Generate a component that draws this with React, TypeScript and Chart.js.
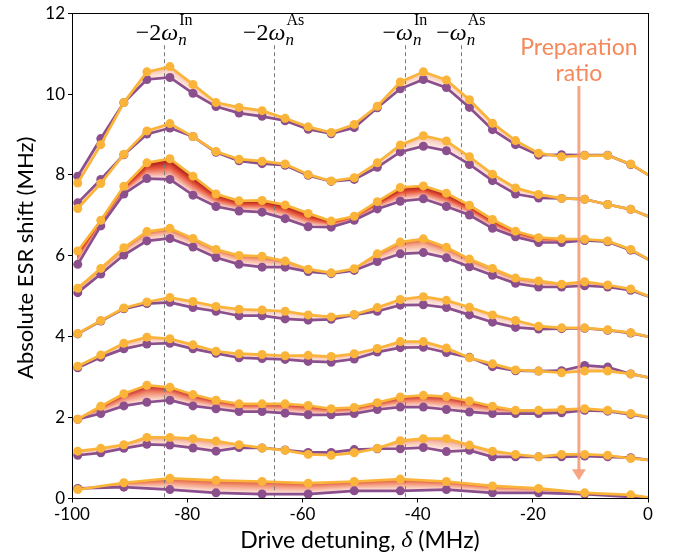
import React, { useEffect, useRef } from 'react';
import { Chart, registerables } from 'chart.js';

Chart.register(...registerables);

// ---------------- data ----------------
// drive detuning (MHz); the last value lies just outside the axis (line continues to the frame)
const detuning = [-99, -95, -91, -87, -83, -79, -75, -71, -67, -63, -59, -55, -51, -47, -43, -39, -35, -31, -27, -23, -19, -15, -11, -7, -3, 1];
const detuningCoarse = [-99, -91, -83, -75, -67, -59, -51, -43, -35, -27, -19, -11, -3, 5];

// each group: high preparation ratio (orange) and low preparation ratio (purple)
const g1High = [7.80, 8.75, 9.79, 10.55, 10.68, 10.24, 9.79, 9.67, 9.59, 9.40, 9.19, 9.05, 9.25, 9.70, 10.30, 10.55, 10.35, 9.86, 9.28, 8.85, 8.54, 8.45, 8.48, 8.48, 8.27, 7.92];
const g1Low = [7.97, 8.90, 9.79, 10.36, 10.41, 10.02, 9.69, 9.53, 9.45, 9.34, 9.13, 9.02, 9.17, 9.66, 10.13, 10.36, 10.16, 9.67, 9.12, 8.75, 8.49, 8.50, 8.49, 8.49, 8.26, 7.92];

const g2High = [7.17, 7.79, 8.51, 9.09, 9.27, 8.95, 8.58, 8.39, 8.34, 8.27, 8.01, 7.85, 7.93, 8.30, 8.74, 8.97, 8.84, 8.45, 8.02, 7.68, 7.52, 7.42, 7.40, 7.27, 7.15, 6.92];
const g2Low = [7.31, 7.89, 8.50, 9.01, 9.16, 8.95, 8.56, 8.35, 8.28, 8.24, 7.99, 7.84, 7.89, 8.19, 8.57, 8.71, 8.60, 8.26, 7.86, 7.53, 7.43, 7.42, 7.40, 7.27, 7.15, 6.92];

const g3High = [6.12, 6.88, 7.72, 8.30, 8.40, 7.97, 7.53, 7.36, 7.37, 7.26, 7.05, 6.86, 6.98, 7.34, 7.69, 7.73, 7.55, 7.25, 6.90, 6.61, 6.45, 6.42, 6.41, 6.37, 6.16, 5.84];
const g3Low = [5.79, 6.74, 7.53, 7.91, 7.89, 7.50, 7.22, 7.11, 7.08, 6.92, 6.72, 6.71, 6.88, 7.16, 7.35, 7.41, 7.22, 7.01, 6.68, 6.47, 6.33, 6.33, 6.38, 6.35, 6.14, 5.84];

const g4High = [5.20, 5.69, 6.20, 6.60, 6.68, 6.43, 6.16, 6.01, 5.99, 5.87, 5.67, 5.58, 5.68, 6.05, 6.34, 6.42, 6.21, 5.92, 5.69, 5.45, 5.38, 5.30, 5.36, 5.28, 5.18, 4.95];
const g4Low = [5.09, 5.55, 6.02, 6.37, 6.43, 6.22, 5.96, 5.79, 5.72, 5.72, 5.61, 5.56, 5.64, 5.86, 6.05, 6.08, 5.95, 5.73, 5.52, 5.32, 5.23, 5.23, 5.26, 5.23, 5.15, 4.95];

const g5High = [4.08, 4.40, 4.71, 4.86, 4.97, 4.87, 4.75, 4.68, 4.66, 4.63, 4.54, 4.49, 4.55, 4.72, 4.92, 4.99, 4.90, 4.73, 4.54, 4.40, 4.26, 4.22, 4.22, 4.17, 4.10, 3.97];
const g5Low = [4.07, 4.39, 4.69, 4.82, 4.85, 4.72, 4.63, 4.52, 4.52, 4.44, 4.41, 4.43, 4.54, 4.63, 4.78, 4.79, 4.72, 4.54, 4.36, 4.23, 4.19, 4.20, 4.21, 4.16, 4.09, 3.97];

const g6High = [3.27, 3.55, 3.84, 3.99, 3.95, 3.80, 3.64, 3.58, 3.56, 3.53, 3.54, 3.51, 3.58, 3.71, 3.88, 3.88, 3.72, 3.48, 3.33, 3.18, 3.15, 3.11, 3.15, 3.15, 3.08, 2.97];
const g6Low = [3.23, 3.49, 3.70, 3.82, 3.84, 3.70, 3.59, 3.48, 3.46, 3.44, 3.39, 3.37, 3.45, 3.62, 3.73, 3.74, 3.61, 3.49, 3.26, 3.16, 3.15, 3.16, 3.29, 3.25, 3.08, 2.97];

const g7High = [1.96, 2.28, 2.59, 2.80, 2.75, 2.57, 2.43, 2.34, 2.34, 2.34, 2.30, 2.22, 2.25, 2.37, 2.51, 2.55, 2.52, 2.41, 2.28, 2.18, 2.18, 2.20, 2.22, 2.18, 2.10, 1.98];
const g7Low = [1.96, 2.10, 2.29, 2.38, 2.43, 2.29, 2.22, 2.15, 2.15, 2.11, 2.07, 2.07, 2.10, 2.20, 2.26, 2.26, 2.20, 2.14, 2.10, 2.10, 2.10, 2.12, 2.18, 2.16, 2.08, 1.98];

const g8High = [1.17, 1.24, 1.33, 1.51, 1.51, 1.48, 1.42, 1.33, 1.25, 1.19, 1.09, 1.07, 1.13, 1.24, 1.43, 1.48, 1.48, 1.32, 1.17, 1.09, 1.03, 1.09, 1.09, 1.07, 0.99, 0.94];
const g8Low = [1.07, 1.13, 1.24, 1.34, 1.32, 1.25, 1.17, 1.26, 1.25, 1.20, 1.14, 1.14, 1.21, 1.23, 1.23, 1.26, 1.16, 1.19, 1.03, 1.03, 1.03, 1.03, 1.05, 1.03, 1.01, 0.94];

const g9High = [0.22, 0.39, 0.50, 0.45, 0.42, 0.38, 0.42, 0.48, 0.42, 0.31, 0.25, 0.14, 0.09, -0.07];
const g9Low = [0.25, 0.28, 0.22, 0.14, 0.11, 0.11, 0.19, 0.19, 0.22, 0.14, 0.14, 0.11, 0.04, -0.07];

// band shading colours: tone next to the high-ratio curve, then a middle tone
const bandShades = ['#f6bca8', '#f6bca8', '#a50f15', '#e4603f', '#f6bca8', '#f2a98e', '#c3232a', '#ee9676', '#e0573a'];
const bandMids = ['#fad6c8', '#fad6c8', '#ea5a3e', '#f6ac92', '#fad6c8', '#f9cdbd', '#f08466', '#f8c3af', '#f49a7c'];

// resonance markers
const markerDetunings = [-84, -65, -42.2, -32.5];
const markerPrefixes = ['\u22122', '\u22122', '\u2212', '\u2212'];
const markerSuperscripts = ['In', 'As', 'In', 'As'];

const xTickStep = 20;
const yTickStep = 2;

// preparation-ratio arrow
const arrowDetuning = -12;
const arrowFrom = 10.2;
const arrowTo = 0.45;

// ---------------- styling ----------------
const PURPLE = '#8a4f8c';
const ORANGE = '#fbb43a';
const SANS = 'Lato, "Open Sans", sans-serif';
const SERIF = '"Liberation Serif", "DejaVu Serif", serif';

const groups = [
  { x: detuning, high: g1High, low: g1Low },
  { x: detuning, high: g2High, low: g2Low },
  { x: detuning, high: g3High, low: g3Low },
  { x: detuning, high: g4High, low: g4Low },
  { x: detuning, high: g5High, low: g5Low },
  { x: detuning, high: g6High, low: g6Low },
  { x: detuning, high: g7High, low: g7Low },
  { x: detuning, high: g8High, low: g8Low },
  { x: detuningCoarse, high: g9High, low: g9Low },
];

const pointRadius = (ctx: any) => (ctx.raw && ctx.raw.x > 0 ? 0 : 4.5);

function makeDatasets() {
  const ds: any[] = [];
  groups.forEach((g) => {
    ds.push({
      data: g.x.map((x, i) => ({ x, y: g.high[i] })),
      borderColor: ORANGE,
      backgroundColor: ORANGE,
      pointBackgroundColor: ORANGE,
      pointBorderColor: ORANGE,
      borderWidth: 2.7,
      pointRadius,
      pointBorderWidth: 0,
      order: 0,
    });
    ds.push({
      data: g.x.map((x, i) => ({ x, y: g.low[i] })),
      borderColor: PURPLE,
      backgroundColor: PURPLE,
      pointBackgroundColor: PURPLE,
      pointBorderColor: PURPLE,
      borderWidth: 2.7,
      pointRadius,
      pointBorderWidth: 0,
      order: 1,
    });
  });
  return ds;
}

const bandPlugin = {
  id: 'bands',
  beforeDatasetsDraw(chart: any) {
    const { ctx, chartArea: a, scales } = chart;
    const xs = scales.x;
    const ys = scales.y;
    ctx.save();
    ctx.beginPath();
    ctx.rect(a.left, a.top, a.right - a.left, a.bottom - a.top);
    ctx.clip();
    groups.forEach((g, gi) => {
      const shade = bandShades[gi];
      const mid = bandMids[gi];
      for (let i = 0; i < g.x.length - 1; i++) {
        const x0 = xs.getPixelForValue(g.x[i]);
        const x1 = xs.getPixelForValue(g.x[i + 1]);
        for (let px = Math.floor(x0); px < x1; px++) {
          const t = Math.min(1, Math.max(0, (px + 0.5 - x0) / (x1 - x0)));
          const yt = ys.getPixelForValue(g.high[i] + t * (g.high[i + 1] - g.high[i]));
          const yb = ys.getPixelForValue(g.low[i] + t * (g.low[i + 1] - g.low[i]));
          if (Math.abs(yb - yt) < 0.5) continue;
          const grad = ctx.createLinearGradient(0, yt, 0, yb);
          grad.addColorStop(0, shade);
          grad.addColorStop(0.4, mid);
          grad.addColorStop(1, '#fef0ea');
          ctx.fillStyle = grad;
          ctx.fillRect(px, Math.min(yt, yb), 1.02, Math.abs(yb - yt));
        }
      }
    });
    ctx.restore();

    // dashed resonance lines
    ctx.save();
    ctx.strokeStyle = '#7a7a7a';
    ctx.lineWidth = 1;
    ctx.setLineDash([4, 3]);
    markerDetunings.forEach((d) => {
      const px = Math.round(xs.getPixelForValue(d)) + 0.5;
      ctx.beginPath();
      ctx.moveTo(px, a.top + 32);
      ctx.lineTo(px, a.bottom);
      ctx.stroke();
    });
    ctx.restore();
  },
  afterDraw(chart: any) {
    const { ctx, chartArea: a, scales } = chart;
    const xs = scales.x;
    const ys = scales.y;

    // frame
    ctx.save();
    ctx.strokeStyle = '#000';
    ctx.lineWidth = 1;
    ctx.strokeRect(Math.round(a.left) + 0.5, Math.round(a.top) + 0.5, Math.round(a.right - a.left), Math.round(a.bottom - a.top));
    ctx.restore();

    // marker labels
    ctx.save();
    ctx.fillStyle = '#000';
    ctx.textBaseline = 'alphabetic';
    ctx.textAlign = 'left';
    markerDetunings.forEach((d, i) => {
      const cx = xs.getPixelForValue(d);
      const pre = markerPrefixes[i];
      const sup = markerSuperscripts[i];
      ctx.font = `24px ${SERIF}`;
      const wPre = ctx.measureText(pre).width;
      ctx.font = `italic 24px ${SERIF}`;
      const wOm = ctx.measureText('\u03c9').width;
      ctx.font = `16px ${SERIF}`;
      const wSup = ctx.measureText(sup).width;
      ctx.font = `italic 17px ${SERIF}`;
      const wSub = ctx.measureText('n').width;
      const total = wPre + wOm + 1 + Math.max(wSup, wSub);
      let x = cx - total / 2;
      const base = a.top + 27;
      ctx.font = `24px ${SERIF}`;
      ctx.fillText(pre, x, base);
      x += wPre;
      ctx.font = `italic 24px ${SERIF}`;
      ctx.fillText('\u03c9', x, base);
      x += wOm + 1;
      ctx.font = `16px ${SERIF}`;
      ctx.fillText(sup, x, base - 15);
      ctx.font = `italic 17px ${SERIF}`;
      ctx.fillText('n', x - 1, base + 5);
    });
    ctx.restore();

    // preparation ratio arrow
    ctx.save();
    const ax = xs.getPixelForValue(arrowDetuning);
    const ay0 = ys.getPixelForValue(arrowFrom);
    const ay1 = ys.getPixelForValue(arrowTo);
    ctx.strokeStyle = 'rgba(245,150,110,0.85)';
    ctx.fillStyle = 'rgba(245,150,110,0.85)';
    ctx.lineWidth = 3;
    ctx.beginPath();
    ctx.moveTo(ax, ay0);
    ctx.lineTo(ax, ay1 - 10);
    ctx.stroke();
    ctx.beginPath();
    ctx.moveTo(ax - 7, ay1 - 11);
    ctx.lineTo(ax + 7, ay1 - 11);
    ctx.lineTo(ax, ay1);
    ctx.closePath();
    ctx.fill();
    ctx.fillStyle = '#f6895c';
    ctx.font = `23px ${SANS}`;
    ctx.textAlign = 'center';
    ctx.textBaseline = 'middle';
    ctx.fillText('Preparation', ax, ay0 - 38);
    ctx.fillText('ratio', ax, ay0 - 12);
    ctx.restore();

    // axis titles
    ctx.save();
    ctx.fillStyle = '#000';
    ctx.textBaseline = 'middle';
    ctx.textAlign = 'left';
    const cxT = (a.left + a.right) / 2;
    const p1 = 'Drive detuning, ';
    const p2 = '\u03b4';
    const p3 = ' (MHz)';
    ctx.font = `23px ${SANS}`;
    const w1 = ctx.measureText(p1).width;
    const w3 = ctx.measureText(p3).width;
    ctx.font = `italic 24px ${SERIF}`;
    const w2 = ctx.measureText(p2).width;
    let tx = cxT - (w1 + w2 + w3) / 2;
    const ty = a.bottom + 42;
    ctx.font = `23px ${SANS}`;
    ctx.fillText(p1, tx, ty);
    tx += w1;
    ctx.font = `italic 24px ${SERIF}`;
    ctx.fillText(p2, tx, ty);
    tx += w2;
    ctx.font = `23px ${SANS}`;
    ctx.fillText(p3, tx, ty);

    ctx.translate(26, (a.top + a.bottom) / 2 + 2);
    ctx.rotate(-Math.PI / 2);
    ctx.textAlign = 'center';
    ctx.font = `22px ${SANS}`;
    ctx.fillText('Absolute ESR shift (MHz)', 0, 0);
    ctx.restore();
  },
};

export default function App() {
  const ref = useRef<HTMLCanvasElement>(null);
  useEffect(() => {
    if (!ref.current) return;
    const chart = new Chart(ref.current, {
      type: 'line',
      data: { datasets: makeDatasets() },
      options: {
        responsive: false,
        animation: false,
        devicePixelRatio: 1,
        events: [],
        layout: { padding: { left: 0, top: 11, right: 35, bottom: 0 } },
        plugins: { legend: { display: false }, tooltip: { enabled: false } },
        scales: {
          x: {
            type: 'linear',
            min: -100,
            max: 0,
            ticks: { stepSize: xTickStep, color: '#000', font: { family: SANS, size: 17 }, padding: 2, maxRotation: 0 },
            grid: { drawOnChartArea: false, tickLength: 4, color: '#000' },
            border: { color: '#000', width: 1 },
            afterFit: (s: any) => { s.height = 58.5; },
          },
          y: {
            type: 'linear',
            min: 0,
            max: 12,
            ticks: { stepSize: yTickStep, color: '#000', font: { family: SANS, size: 17 }, padding: 3 },
            grid: { drawOnChartArea: false, tickLength: 4, color: '#000' },
            border: { color: '#000', width: 1 },
            afterFit: (s: any) => { s.width = 72; },
          },
        },
      },
      plugins: [bandPlugin],
    } as any);
    return () => chart.destroy();
  }, []);
  return (
    <div style={{ position: 'fixed', left: 0, top: 0, width: 683, height: 557, background: '#fff' }}>
      <canvas ref={ref} width={683} height={557} style={{ display: 'block', width: 683, height: 557 }} />
    </div>
  );
}
